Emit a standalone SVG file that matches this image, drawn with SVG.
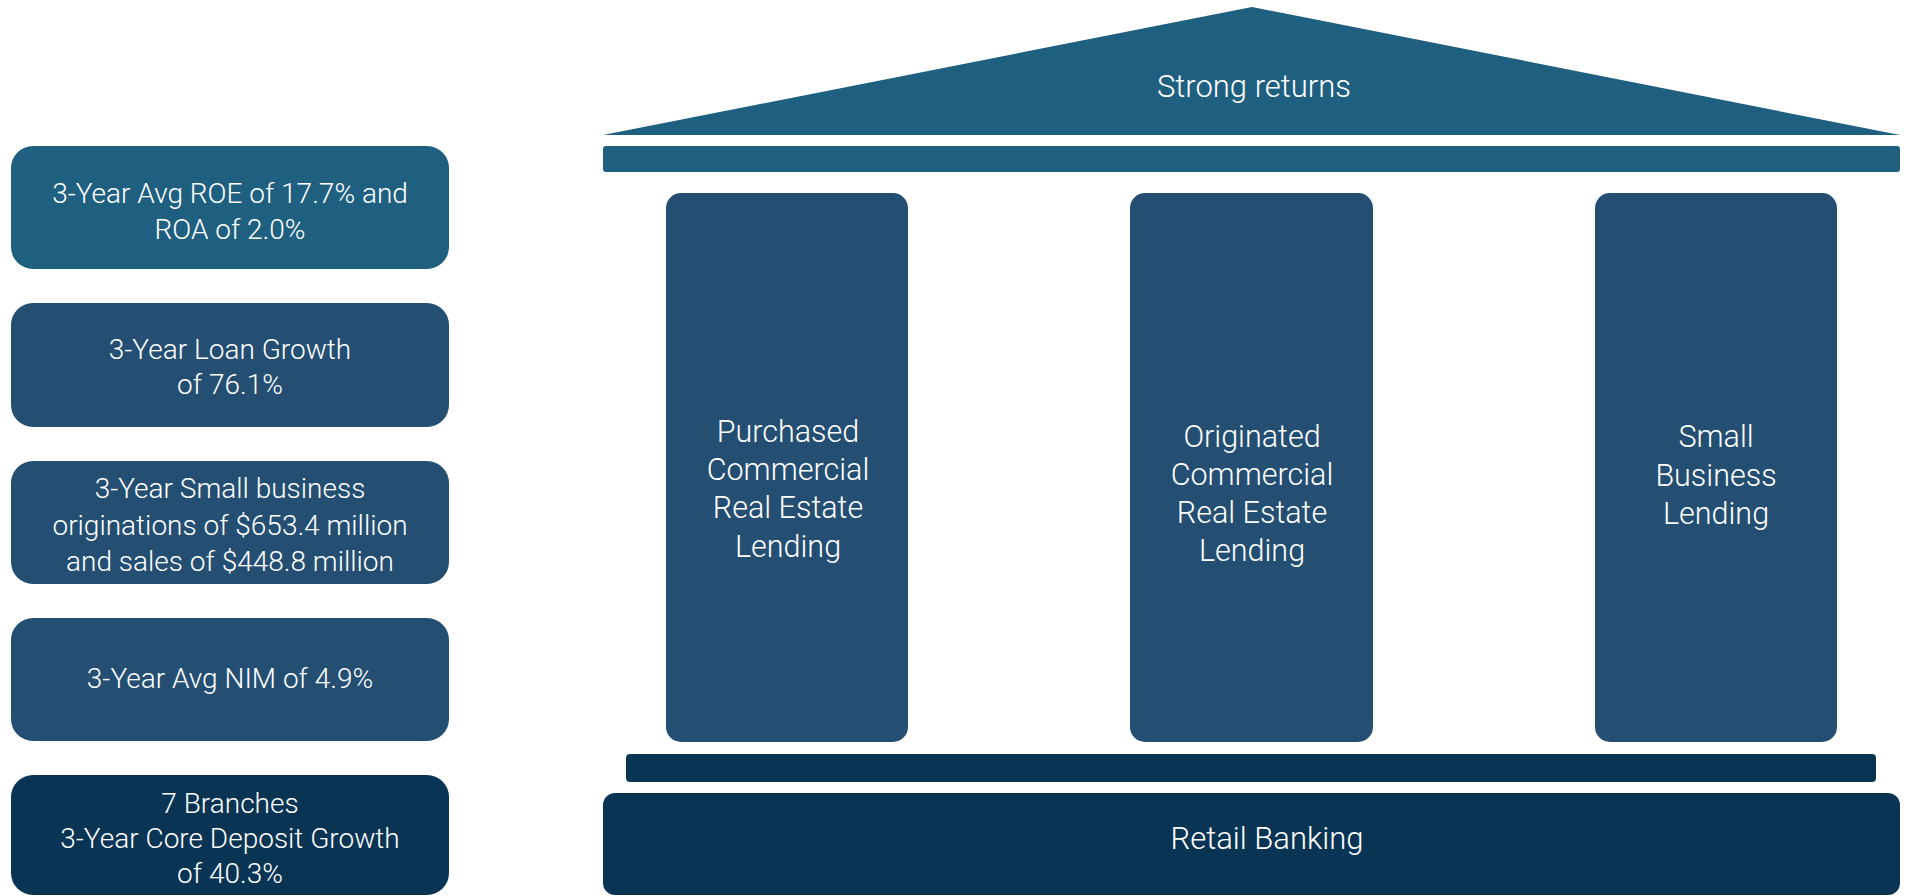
<svg xmlns="http://www.w3.org/2000/svg" width="1911" height="896" viewBox="0 0 1911 896">
<style>
.t{font-family:Roboto,"Liberation Sans",sans-serif;fill:#ffffff;text-anchor:middle;font-weight:300}
.s28{font-size:28px}
.s30{font-size:30.5px}
.s31{font-size:31px}
.teal{fill:#1F6080}
.mid{fill:#244F73}
.dark{fill:#0A3454}
</style>
<rect width="1911" height="896" fill="#ffffff"/>
<g id="metric-roe">
<rect class="teal" x="11" y="146" width="438" height="123" rx="22"/>
<text class="t s28" x="230" y="203">3-Year Avg ROE of 17.7% and</text>
<text class="t s28" x="230" y="239">ROA of 2.0%</text>
</g>
<g id="metric-loan">
<rect class="mid" x="11" y="303" width="438" height="124" rx="22"/>
<text class="t s28" x="230" y="359">3-Year Loan Growth</text>
<text class="t s28" x="230" y="394">of 76.1%</text>
</g>
<g id="metric-sba">
<rect class="mid" x="11" y="461" width="438" height="123" rx="22"/>
<text class="t s28" x="230" y="498">3-Year Small business</text>
<text class="t s28" x="230" y="535">originations of $653.4 million</text>
<text class="t s28" x="230" y="571">and sales of $448.8 million</text>
</g>
<g id="metric-nim">
<rect class="mid" x="11" y="618" width="438" height="123" rx="22"/>
<text class="t s28" x="230" y="688">3-Year Avg NIM of 4.9%</text>
</g>
<g id="metric-branches">
<rect class="dark" x="11" y="775" width="438" height="120" rx="22"/>
<text class="t s28" x="230" y="813">7 Branches</text>
<text class="t s28" x="230" y="848">3-Year Core Deposit Growth</text>
<text class="t s28" x="230" y="883">of 40.3%</text>
</g>
<g id="roof">
<polygon class="teal" points="603,135 1252,7 1900,135"/>
<text class="t s31" x="1254" y="97">Strong returns</text>
</g>
<g id="entablature">
<rect class="teal" x="603" y="146" width="1297" height="26" rx="3"/>
</g>
<g id="pillar-purchased">
<rect class="mid" x="666" y="193" width="242" height="549" rx="15"/>
<text class="t s30" x="788" y="442">Purchased</text>
<text class="t s30" x="788" y="480">Commercial</text>
<text class="t s30" x="788" y="518">Real Estate</text>
<text class="t s30" x="788" y="557">Lending</text>
</g>
<g id="pillar-originated">
<rect class="mid" x="1130" y="193" width="243" height="549" rx="15"/>
<text class="t s30" x="1252" y="447">Originated</text>
<text class="t s30" x="1252" y="485">Commercial</text>
<text class="t s30" x="1252" y="523">Real Estate</text>
<text class="t s30" x="1252" y="561">Lending</text>
</g>
<g id="pillar-small-business">
<rect class="mid" x="1595" y="193" width="242" height="549" rx="15"/>
<text class="t s30" x="1716" y="447">Small</text>
<text class="t s30" x="1716" y="486">Business</text>
<text class="t s30" x="1716" y="524">Lending</text>
</g>
<g id="base-bar">
<rect class="dark" x="626" y="754" width="1250" height="28" rx="4"/>
</g>
<g id="retail-banking">
<rect class="dark" x="603" y="793" width="1297" height="102" rx="12"/>
<text class="t s31" x="1267" y="849">Retail Banking</text>
</g>
<g id="connectors"></g>
</svg>
